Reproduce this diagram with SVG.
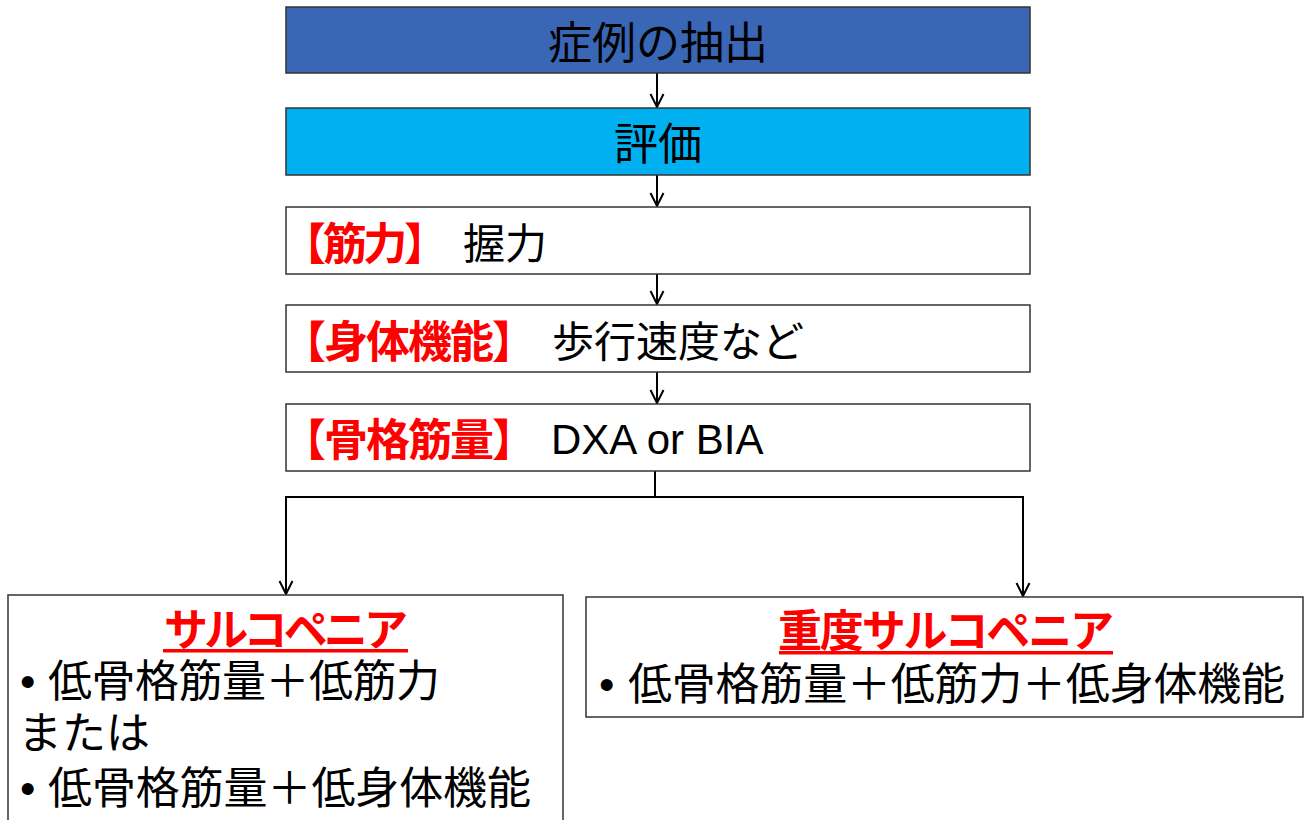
<svg xmlns="http://www.w3.org/2000/svg" width="1307" height="820" viewBox="0 0 1307 820">
<defs>
<marker id="arr" viewBox="0 0 16 16" refX="14" refY="8" markerWidth="16" markerHeight="16" markerUnits="userSpaceOnUse" orient="auto">
<polyline points="1,1.5 14,8 1,14.5" fill="none" stroke="#000" stroke-width="2"/>
</marker>
</defs>
<style>
text{font-family:"Noto Sans CJK JP","Liberation Sans",sans-serif;}
.box{stroke:#333;stroke-width:1.5;}
.w{fill:#fff;}
.t{font-size:44px;fill:#000;}
.r{font-size:44px;fill:#f00;font-weight:bold;}
.k{font-size:42px;fill:#000;}
.h{font-size:44px;fill:#f00;font-weight:bold;}
.lat{font-family:"Liberation Sans",Arial,sans-serif;font-size:42px;fill:#000;}
.bul{font-family:"Liberation Sans",Arial,sans-serif;font-size:44px;fill:#000;}
.c{fill:none;stroke:#000;stroke-width:2;}
</style>
<g id="connectors">
<line class="c" x1="657" y1="73" x2="657" y2="107" marker-end="url(#arr)"/>
<line class="c" x1="657" y1="175" x2="657" y2="206" marker-end="url(#arr)"/>
<line class="c" x1="657" y1="274" x2="657" y2="304" marker-end="url(#arr)"/>
<line class="c" x1="657" y1="372" x2="657" y2="403" marker-end="url(#arr)"/>
<polyline class="c" points="655,471 655,497 286,497 286,594" marker-end="url(#arr)"/>
<polyline class="c" points="655,497 1023,497 1023,596" marker-end="url(#arr)"/>
</g>
<g id="node-extract">
<rect class="box" x="286" y="7" width="744" height="66" fill="#3A66B6"/>
<text class="t" x="658" y="59" text-anchor="middle">症例の抽出</text>
</g>
<g id="node-eval">
<rect class="box" x="286" y="108" width="744" height="67" fill="#00B0F0"/>
<text class="t" x="658" y="160" text-anchor="middle">評価</text>
</g>
<g id="node-strength">
<rect class="box w" x="286" y="207" width="744" height="67"/>
<text class="r" x="282" y="260" textLength="166">【筋力】</text>
<text class="k" x="463" y="259">握力</text>
</g>
<g id="node-function">
<rect class="box w" x="286" y="305" width="744" height="67"/>
<text class="r" x="282" y="358" textLength="254">【身体機能】</text>
<text class="k" x="552" y="357">歩行速度など</text>
</g>
<g id="node-muscle">
<rect class="box w" x="286" y="404" width="744" height="67"/>
<text class="r" x="282" y="456" textLength="254">【骨格筋量】</text>
<text class="lat" x="551" y="454">DXA or BIA</text>
</g>
<g id="node-sarcopenia">
<rect class="box w" x="8" y="595" width="555" height="240"/>
<text class="h" x="286" y="646" text-anchor="middle" textLength="244">サルコペニア</text>
<rect x="163" y="649" width="245" height="3.5" fill="#f00"/>
<text class="bul" x="20" y="697">•</text>
<text class="t" x="48" y="697" textLength="392">低骨格筋量＋低筋力</text>
<text class="t" x="18" y="749">または</text>
<text class="bul" x="20" y="804">•</text>
<text class="t" x="48" y="804" textLength="483">低骨格筋量＋低身体機能</text>
</g>
<g id="node-severe">
<rect class="box w" x="586" y="597" width="717" height="120"/>
<text class="h" x="946" y="647" text-anchor="middle" textLength="336">重度サルコペニア</text>
<rect x="779" y="651" width="334" height="3.5" fill="#f00"/>
<text class="bul" x="599" y="700">•</text>
<text class="t" x="628" y="700" textLength="657">低骨格筋量＋低筋力＋低身体機能</text>
</g>
</svg>
